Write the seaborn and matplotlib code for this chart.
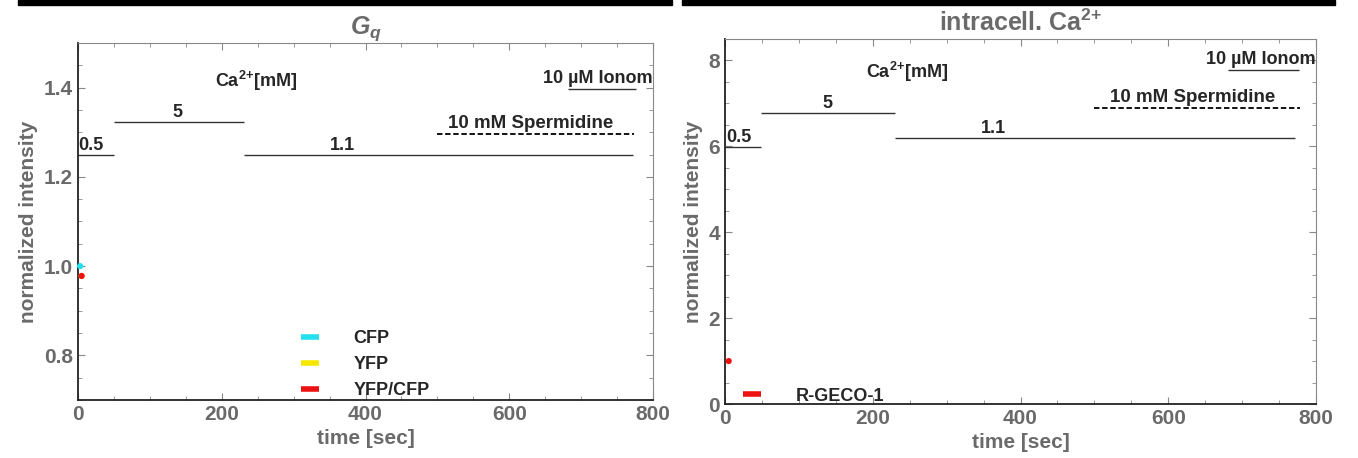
import matplotlib
matplotlib.use("Agg")
import matplotlib.pyplot as plt
from matplotlib.lines import Line2D
from matplotlib.ticker import MultipleLocator
import pandas as pd
import seaborn as sns

sns.set_style("ticks")
plt.rcParams['font.family'] = ['Liberation Sans', 'DejaVu Sans']
plt.rcParams['mathtext.fontset'] = 'custom'
plt.rcParams['mathtext.rm'] = 'Liberation Sans:bold'
plt.rcParams['mathtext.it'] = 'Liberation Sans:italic:bold'
plt.rcParams['mathtext.bf'] = 'Liberation Sans:bold'

GRAY = '#6a6a6a'

# ---------- data: G_q panel ----------
gq_series = ['CFP', 'YFP', 'YFP/CFP']
gq_colors = ['#22e0ee', '#f5e800', '#ee1111']
gq_time = [3, 5, 5]
gq_value = [1.0, 0.978, 0.978]

# Ca2+ condition bars
gq_ca_start = [0, 50, 231]
gq_ca_end = [50, 231, 772]
gq_ca_level = [1.248, 1.322, 1.248]
gq_ca_label = ['0.5', '5', '1.1']
gq_ca_label_x = [1, 139, 368]
gq_sperm = (499, 773, 1.297)
gq_iono = (682, 776, 1.397)

# ---------- data: intracell Ca2+ panel ----------
ca_series = ['R-GECO-1']
ca_colors = ['#ee1111']
ca_time = [5]
ca_value = [1.0]

ca_ca_start = [0, 49, 230]
ca_ca_end = [49, 230, 771]
ca_ca_level = [5.99, 6.78, 6.2]
ca_ca_label = ['0.5', '5', '1.1']
ca_ca_label_x = [2, 138, 363]
ca_sperm = (499, 778, 6.9)
ca_iono = (681, 777, 7.78)

fig = plt.figure(figsize=(13.58, 4.58), dpi=100)
ax1 = fig.add_axes([78 / 1358, 1 - 400 / 458, 575 / 1358, 357 / 458])
ax2 = fig.add_axes([725 / 1358, 1 - 404 / 458, 591 / 1358, 365 / 458])

# top black bars
fig.add_artist(plt.Rectangle((18 / 1358, 1 - 5 / 458), 654 / 1358, 5 / 458,
                             transform=fig.transFigure, color='black'))
fig.add_artist(plt.Rectangle((682 / 1358, 1 - 5 / 458), 653 / 1358, 5 / 458,
                             transform=fig.transFigure, color='black'))


def style_axis(ax, ylim, ymajor, yminor):
    ax.set_xlim(0, 800)
    ax.set_ylim(*ylim)
    ax.xaxis.set_major_locator(MultipleLocator(200))
    ax.xaxis.set_minor_locator(MultipleLocator(50))
    ax.yaxis.set_major_locator(MultipleLocator(ymajor))
    ax.yaxis.set_minor_locator(MultipleLocator(yminor))
    ax.tick_params(which='both', direction='in', top=True, right=True,
                   colors='#888888', labelcolor=GRAY, labelsize=15)
    ax.tick_params(which='major', length=5)
    ax.tick_params(which='minor', length=3)
    for lab in ax.get_xticklabels() + ax.get_yticklabels():
        lab.set_fontweight('bold')
    for s in ['left', 'bottom']:
        ax.spines[s].set_color('#222222')
        ax.spines[s].set_linewidth(1.3)
    for s in ['top', 'right']:
        ax.spines[s].set_color('#888888')
    ax.set_xlabel('time [sec]', fontsize=15, fontweight='bold', color=GRAY)
    ax.set_ylabel('normalized intensity', fontsize=15, fontweight='bold', color=GRAY)


def draw_conditions(ax, starts, ends, levels, labels, label_x, sperm, iono, dy, ca_pos):
    ax.hlines(levels, starts, ends, color='#333333', lw=1.0)
    for lx, lv, lb in zip(label_x, levels, labels):
        ha = 'left' if lb == '0.5' else 'center'
        ax.text(lx, lv + dy * 0.05, lb, ha=ha, va='bottom',
                fontsize=13, fontweight='bold')
    ax.hlines(sperm[2], sperm[0], sperm[1], color='black', lw=1.3, linestyles=(0, (3, 1.5)))
    ax.text((sperm[0] + sperm[1]) / 2 - 6, sperm[2] + dy * 0.06, '10 mM Spermidine',
            ha='center', va='bottom', fontsize=13.5, fontweight='bold')
    ax.hlines(iono[2], iono[0], iono[1], color='#333333', lw=1.0)
    ax.text(800, iono[2] + dy * 0.1, '10 µM Ionom', ha='right', va='bottom',
            fontsize=13, fontweight='bold', clip_on=False)
    ax.text(ca_pos[0], ca_pos[1], r'Ca$^{2{+}}$[mM]', ha='center', va='center',
            fontsize=13, fontweight='bold')


# ---- left panel ----
df_gq = pd.DataFrame({'time': gq_time, 'value': gq_value, 'series': gq_series})
sns.scatterplot(data=df_gq, x='time', y='value', hue='series', palette=gq_colors,
                s=20, edgecolor='none', legend=False, ax=ax1, zorder=3, clip_on=False)
style_axis(ax1, (0.7, 1.5), 0.2, 0.05)
draw_conditions(ax1, gq_ca_start, gq_ca_end, gq_ca_level, gq_ca_label, gq_ca_label_x,
                gq_sperm, gq_iono, 0.05, (247, 1.415))
ax1.set_title(r'$G_q$', fontsize=18, color=GRAY, pad=6)
h1 = [Line2D([0], [0], color=c, lw=4, solid_capstyle='butt') for c in gq_colors]
ax1.legend(h1, gq_series, loc='lower left', bbox_to_anchor=(0.36, -0.044),
           frameon=False, handlelength=1.0, handletextpad=1.9,
           labelspacing=0.5, prop={'weight': 'bold', 'size': 13})

# ---- right panel ----
df_ca = pd.DataFrame({'time': ca_time, 'value': ca_value, 'series': ca_series})
sns.scatterplot(data=df_ca, x='time', y='value', hue='series', palette=ca_colors,
                s=20, edgecolor='none', legend=False, ax=ax2, zorder=3, clip_on=False)
style_axis(ax2, (0, 8.5), 2, 0.5)
draw_conditions(ax2, ca_ca_start, ca_ca_end, ca_ca_level, ca_ca_label, ca_ca_label_x,
                ca_sperm, ca_iono, 0.5, (246, 7.74))
ax2.set_title(r'intracell. Ca$^{2{+}}$', fontsize=18, fontweight='bold', color=GRAY, pad=6)
h2 = [Line2D([0], [0], color=c, lw=4, solid_capstyle='butt') for c in ca_colors]
ax2.legend(h2, ca_series, loc='lower left', bbox_to_anchor=(0.003, -0.046),
           frameon=False, handlelength=1.0, handletextpad=1.9,
           prop={'weight': 'bold', 'size': 13})

fig.savefig('out.png', dpi=100)
